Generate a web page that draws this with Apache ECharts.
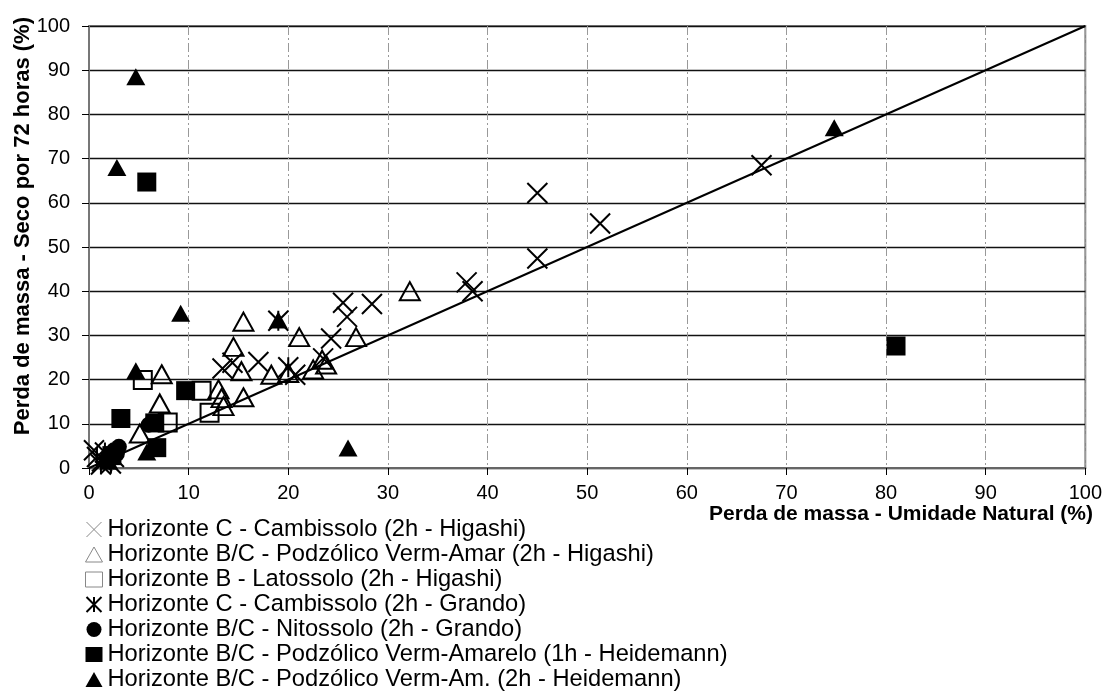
<!DOCTYPE html>
<html>
<head>
<meta charset="utf-8">
<script src="https://cdn.jsdelivr.net/npm/echarts@6/dist/echarts.min.js"></script>
<style>
  html, body { margin: 0; padding: 0; background: #fff; }
  #chart { width: 1105px; height: 691px; }
</style>
</head>
<body>
<div id="chart"></div>
<script>
// dados: [umidade natural, seco 72h] (%)
const cambHigashi = [
    [67.5, 68.5], [45.0, 62.2], [51.3, 55.3], [45.0, 47.4], [37.9, 42.0], [38.5, 40.0],
    [28.4, 37.1], [25.5, 37.4], [25.9, 34.2], [24.3, 29.3], [23.5, 24.8], [17.0, 24.0],
    [20.7, 21.1], [14.4, 23.8], [13.4, 22.5], [0.5, 4.0], [1.3, 1.5], [2.5, 2.5]
];
const podzHigashi = [
    [32.2, 40.0], [15.5, 33.1], [21.1, 29.6], [26.8, 29.6], [14.5, 27.4], [7.3, 21.2],
    [15.3, 21.9], [18.3, 21.1], [20.0, 21.5], [22.5, 22.3], [23.4, 24.5], [23.8, 23.4],
    [13.0, 17.8], [13.3, 15.8], [13.5, 14.0], [15.5, 16.0], [7.1, 14.6], [5.1, 7.8]
];
const latoHigashi = [[5.4, 19.9], [11.3, 17.5], [12.1, 12.5], [7.9, 10.3]];
const cambGrando = [[19.0, 33.3], [20.0, 22.8], [0.8, 2.5], [1.6, 3.5], [2.2, 1.0], [1.2, 0.8]];
const nitoGrando = [[3.0, 4.8], [2.5, 4.0], [2.0, 2.8], [2.8, 3.2], [1.8, 1.5], [6.0, 9.8]];
const podzHeide1h = [[5.8, 64.7], [81.0, 27.6], [9.7, 17.5], [3.2, 11.2], [6.6, 10.2], [6.8, 4.6], [2.3, 2.8]];
const podzHeide2h = [
    [4.7, 88.5], [2.8, 68.0], [74.8, 77.0], [9.2, 35.0], [4.7, 22.0], [19.0, 33.5],
    [26.0, 4.5], [5.8, 3.6], [2.0, 1.5]
];
const diagonal = [[0, 0], [100, 100]];

const seriesNames = [
    'Horizonte C - Cambissolo (2h - Higashi)',
    'Horizonte B/C - Podzólico Verm-Amar (2h - Higashi)',
    'Horizonte B - Latossolo (2h - Higashi)',
    'Horizonte C - Cambissolo (2h - Grando)',
    'Horizonte B/C - Nitossolo (2h - Grando)',
    'Horizonte B/C - Podzólico Verm-Amarelo (1h - Heidemann)',
    'Horizonte B/C - Podzólico Verm-Am. (2h - Heidemann)'
];

const FONT = 'Arial, "Liberation Sans", sans-serif';
const xMark = 'path://M0,0L10,10M10,0L0,10';
const starMark = 'path://M0,0L10,10M10,0L0,10M5,0L5,10';
const openStyle = { color: 'rgba(0,0,0,0)', borderColor: '#000', borderWidth: 2, opacity: 1 };
const solidStyle = { color: '#000', opacity: 1 };
const greyIcon = { color: 'rgba(0,0,0,0)', borderColor: '#888', borderWidth: 1 };

const chart = echarts.init(document.getElementById('chart'));

function scatter(name, data, symbol, size, style) {
    return {
        name: name,
        type: 'scatter',
        data: data,
        symbol: symbol,
        symbolSize: size,
        itemStyle: style,
        z: 3
    };
}

const option = {
    animation: false,
    backgroundColor: '#fff',
    textStyle: { fontFamily: FONT },
    grid: {
        left: 89, right: 18, top: 26, bottom: 223,
        show: true, borderColor: '#888', borderWidth: 2
    },
    xAxis: {
        type: 'value', min: 0, max: 100, interval: 10,
        axisLine: { onZero: false, lineStyle: { color: '#666', width: 2 } },
        axisTick: { length: 7, lineStyle: { color: '#000' } },
        axisLabel: { color: '#000', fontSize: 20, margin: 15, fontFamily: FONT },
        splitLine: { lineStyle: { color: '#999', type: [9, 3, 2, 3], width: 1 } }
    },
    yAxis: {
        type: 'value', min: 0, max: 100, interval: 10,
        axisLine: { show: true, onZero: false, lineStyle: { color: '#777', width: 2 } },
        axisTick: { show: true, length: 7, lineStyle: { color: '#000' } },
        axisLabel: { color: '#000', fontSize: 20, margin: 19, fontFamily: FONT },
        splitLine: { lineStyle: { color: '#111', width: 1.3 } }
    },
    legend: {
        orient: 'vertical', left: 85, top: 517, height: 200, padding: 0,
        itemWidth: 17, itemHeight: 15, itemGap: 0,
        textStyle: { color: '#000', fontSize: 23.7, fontFamily: FONT, lineHeight: 25 },
        data: [
            { name: seriesNames[0], itemStyle: greyIcon },
            { name: seriesNames[1], itemStyle: greyIcon },
            { name: seriesNames[2], itemStyle: greyIcon },
            { name: seriesNames[3], itemStyle: { color: 'rgba(0,0,0,0)', borderColor: '#000', borderWidth: 2 } },
            { name: seriesNames[4] },
            { name: seriesNames[5] },
            { name: seriesNames[6] }
        ]
    },
    graphic: [
        {
            type: 'text', left: 12, top: 17, rotation: Math.PI / 2,
            originX: 0, originY: 0,
            style: {
                text: 'Perda de massa - Seco por 72 horas (%)',
                font: 'bold 22px ' + FONT, fill: '#000'
            }
        },
        {
            type: 'text', right: 12, top: 504,
            style: {
                text: 'Perda de massa - Umidade Natural (%)',
                font: 'bold 21px ' + FONT, fill: '#000'
            }
        }
    ],
    series: [
        {
            type: 'line', data: diagonal, symbol: 'none', silent: true,
            lineStyle: { color: '#000', width: 2 }, z: 4
        },
        scatter(seriesNames[0], cambHigashi, xMark, 20, openStyle),
        scatter(seriesNames[1], podzHigashi, 'triangle', [20, 18], openStyle),
        scatter(seriesNames[2], latoHigashi, 'rect', 18, openStyle),
        scatter(seriesNames[3], cambGrando, starMark, 20, openStyle),
        scatter(seriesNames[4], nitoGrando, 'circle', 16, solidStyle),
        scatter(seriesNames[5], podzHeide1h, 'rect', 19, solidStyle),
        scatter(seriesNames[6], podzHeide2h, 'triangle', [19, 17], solidStyle)
    ]
};

chart.setOption(option);
</script>
</body>
</html>
